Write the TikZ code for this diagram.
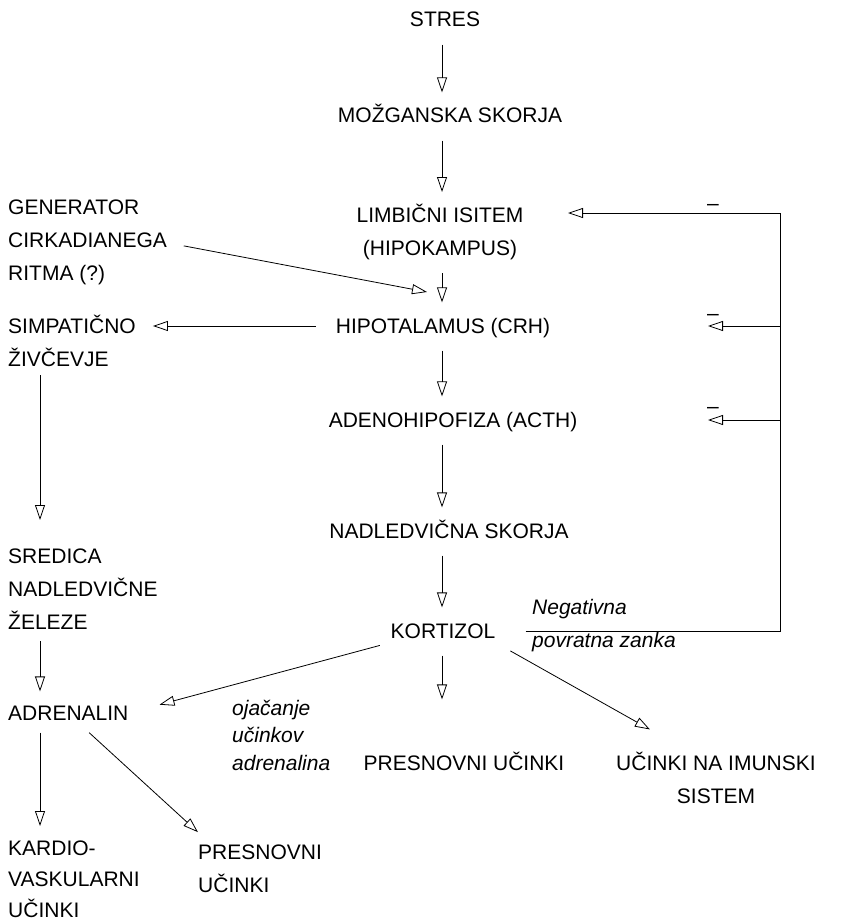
\documentclass[tikz,border=0pt]{standalone}
\usepackage{fontspec}
\setmainfont{Liberation Sans}
\usetikzlibrary{arrows.meta}
\tikzset{txt/.style={inner sep=0pt,font=\fontsize{21}{33}\selectfont,
                     execute at begin node={\vphantom{Č(}},
                     execute at end node={\vphantom{Č(}}}}
\tikzset{txtl/.style={txt,align=left}}
\tikzset{txtc/.style={txt,align=center}}
\tikzset{itxt/.style={txt,align=left,font=\fontsize{21}{27.5}\selectfont\itshape}}
\tikzset{conn/.style={draw,line width=0.8pt}}
\tikzset{arr/.style={conn,-{Triangle[open,length=15pt,width=10pt]},
                     shorten <=13pt,shorten >=12pt}}
\begin{document}
\begin{tikzpicture}[x=1pt,y=-1pt]
    \useasboundingbox (0,0) rectangle (849,923);
    % Columns for the vertical arrows
    \coordinate (col) at (442,0);
    \coordinate (lcol) at (40,0);
    \coordinate (fbx) at (780,0);
    \coordinate (tipx) at (708,0);
    % Draw main chain
    \node[txt,anchor=base] (stres) at (445,27) {STRES};
    \node[txt,anchor=base] (mozg) at (450,123) {MOŽGANSKA SKORJA};
    \node[txtc,anchor=north] (limb) at (440,204) {LIMBIČNI ISITEM\\(HIPOKAMPUS)};
    \node[txt,anchor=base] (hypo) at (443,333) {HIPOTALAMUS (CRH)};
    \node[txt,anchor=base] (adeno) at (453,427) {ADENOHIPOFIZA (ACTH)};
    \node[txt,anchor=base] (nadl) at (449,538) {NADLEDVIČNA SKORJA};
    \node[txt,anchor=base] (kort) at (443,638) {KORTIZOL};
    \node[txt,anchor=base] (presn) at (464,770) {PRESNOVNI UČINKI};
    \node[txtc,anchor=north] (imun) at (716,752) {UČINKI NA IMUNSKI\\SISTEM};
    % Draw left column
    \node[txtl,anchor=north west] (gen) at (8,200) {GENERATOR\\CIRKADIANEGA\\RITMA (?)};
    \node[txtl,anchor=north west] (simp) at (8,315) {SIMPATIČNO\\ŽIVČEVJE};
    \node[txtl,anchor=north west] (sred) at (8,549) {SREDICA\\NADLEDVIČNE\\ŽELEZE};
    \node[txt,anchor=base west] (adren) at (8,720) {ADRENALIN};
    \node[txtl,anchor=north west,font=\fontsize{21}{31}\selectfont] (kard) at (8,841) {KARDIO-\\VASKULARNI\\UČINKI};
    \node[txtl,anchor=north west] (presnb) at (198,845) {PRESNOVNI\\UČINKI};
    % Italic notes
    \node[itxt,anchor=north west] (ojac) at (232,700) {ojačanje\\učinkov\\adrenalina};
    \node[itxt,anchor=north west,font=\fontsize{21}{33}\selectfont\itshape] (neg) at (532,599) {Negativna\\povratna zanka};
    % Edges down the main chain
    \foreach \a/\b in {stres/mozg,mozg/limb,limb/hypo,hypo/adeno,adeno/nadl,nadl/kort}{%
          \draw[arr] (\a.south -| col) -- (\b.north -| col);
        }
    \draw[arr,shorten >=52pt] (kort.south -| col) -- (presn.north -| col);
    % Edges down the left column
    \draw[arr,shorten <=4pt,shorten >=29pt] (simp.south -| lcol) -- (sred.north -| lcol);
    \draw[arr,shorten <=7pt,shorten >=10pt] (sred.south -| lcol) -- (adren.north -| lcol);
    \draw[arr,shorten <=8pt,shorten >=15pt] (adren.south -| lcol) -- (kard.north -| lcol);
    % Slanted edges
    \coordinate (genin) at (427,292);
    \draw[arr,shorten <=17pt,shorten >=0pt] (gen.east) -- (genin);
    \draw[arr,shorten <=20pt,shorten >=17pt] (hypo.west) -- (simp.east |- hypo.west);
    \draw[arr,shorten <=11pt,shorten >=32pt] (kort.south west) -- (adren.east);
    \draw[arr,shorten <=17pt,shorten >=46pt] (kort.south east) -- ([xshift=-26pt]imun.north);
    \draw[arr,shorten <=12pt,shorten >=19pt] ([xshift=12pt]adren.south) -- ([xshift=14pt]presnb.north west);
    % Negative feedback loop
    \coordinate (limbin) at (568,213);
    \draw[arr,shorten <=30pt,shorten >=0pt] (kort.east) -| (fbx |- limbin) -- (limbin);
    \draw[arr,shorten <=0pt,shorten >=0pt] (hypo.east -| fbx) -- (hypo.east -| tipx);
    \draw[arr,shorten <=0pt,shorten >=0pt] (adeno.east -| fbx) -- (adeno.east -| tipx);
    % Minus signs
    \node[txt] (m1) at (713,203) {–};
    \node[txt] (m2) at (713,313) {–};
    \node[txt] (m3) at (713,406) {–};
\end{tikzpicture}
\end{document}
